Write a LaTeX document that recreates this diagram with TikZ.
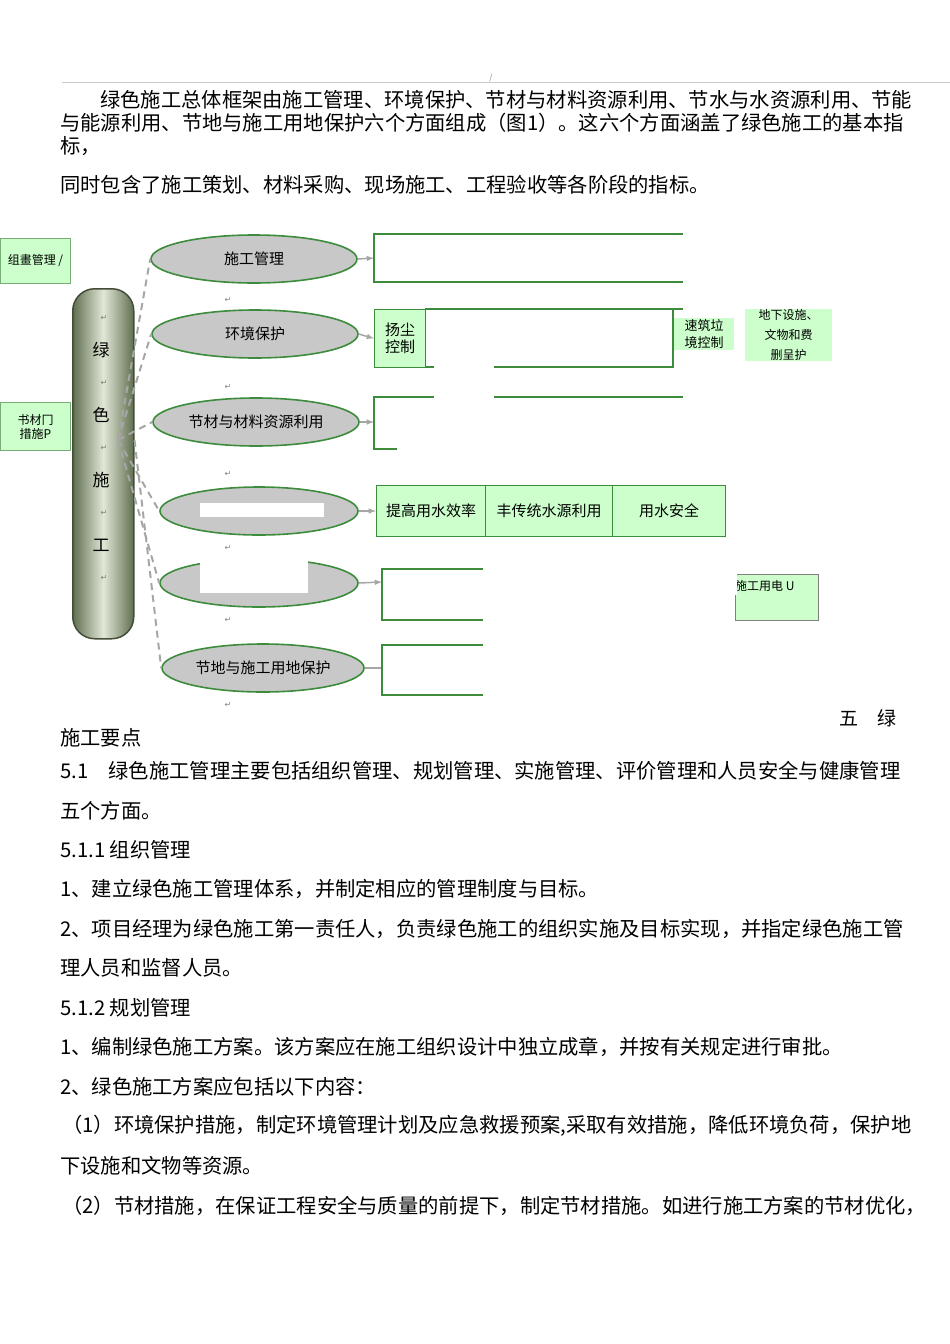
\documentclass[tikz,border=0pt]{standalone}
\usepackage{fontspec}
\setmainfont{Noto Sans CJK SC}
\newfontfamily\symf{DejaVu Sans}
\usetikzlibrary{shapes.geometric}
\definecolor{lg}{RGB}{204,255,204}
\definecolor{dg}{RGB}{60,140,60}
\definecolor{eg}{RGB}{200,200,200}
\definecolor{pe}{RGB}{95,110,80}
\definecolor{pm}{RGB}{225,232,215}
\begin{document}
\begin{tikzpicture}[x=1pt,y=-1pt,
  body/.style={anchor=west,inner sep=0pt,font=\fontsize{20.3}{22}\selectfont},
  ell/.style={ellipse,draw=dg,line width=1.6pt,fill=eg,minimum width=206pt,minimum height=48pt,inner sep=0pt,font=\fontsize{15}{17}\selectfont},
  gbox/.style={draw=dg,line width=1pt,fill=lg,inner sep=0pt,font=\fontsize{15}{17}\selectfont},
  open/.style={draw=dg,line width=1.2pt},
  dsh/.style={draw=gray!70,line width=2pt,dash pattern=on 7pt off 5pt},
  arr/.style={draw=gray!70,line width=1.5pt,-latex},
  ret/.style={font=\symf\fontsize{8}{9}\selectfont,text=gray,inner sep=0pt}]
\useasboundingbox (0,0) rectangle (950,1344);
\draw[gray!40,line width=0.6pt] (62,82) -- (950,82);
\node[inner sep=0pt,font=\fontsize{8}{8}\selectfont,text=gray] (sl) at (491,78) {/};
\node[body] (t1) at (100,100) {绿色施工总体框架由施工管理、环境保护、节材与材料资源利用、节水与水资源利用、节能};
\node[body] (t2) at (60,123) {与能源利用、节地与施工用地保护六个方面组成（图1）。这六个方面涵盖了绿色施工的基本指};
\node[body] (t3) at (60,146) {标，};
\node[body] (t4) at (60,185) {同时包含了施工策划、材料采购、现场施工、工程验收等各阶段的指标。};
\node[gbox,draw=dg!70,minimum width=70pt,minimum height=45pt,anchor=north west,font=\fontsize{12}{14}\selectfont] (lb1) at (0,238) {组畫管理 /};
\node[gbox,draw=dg!70,minimum width=70pt,minimum height=48pt,anchor=north west,font=\fontsize{12}{14}\selectfont,align=center] (lb2) at (0,402) {书材冂\\措施P};
\node[draw=pe!70!black,line width=1.5pt,rounded corners=22pt,minimum width=61pt,minimum height=350pt,anchor=north west,
  left color=pe,right color=pe,middle color=pm] (pill) at (72,288) {};
\foreach \c/\y in {绿/350,色/415,施/480,工/545}{\node[font=\fontsize{17}{18}\selectfont,inner sep=0pt] at (101,\y) {\c};}
\foreach \y in {318,383,448,513,578}{\node[ret] at (104,\y) {↵};}
\node[ell] (e1) at (254,259) {施工管理};
\node[ell] (e2) at (255,334) {环境保护};
\node[ell] (e3) at (256,422) {节材与材料资源利用};
\node[ell,minimum width=198pt] (e4) at (259,511) {};
\node[ell,minimum width=198pt] (e5) at (259,583) {};
\node[ell,minimum width=202pt] (e6) at (263,668) {节地与施工用地保护};
\fill[white] (200,503) rectangle (324,517);
\fill[white] (200,558) rectangle (308,593);
\foreach \y in {300,387,474,548,620,705}{\node[ret] at (228,\y) {↵};}
\coordinate (hub) at (118,440);
\draw[dsh] (hub) -- (e1.west);
\draw[dsh] (hub) -- (e2.west);
\draw[dsh] (hub) -- (e3.west);
\draw[dsh] (hub) -- (e4.west);
\draw[dsh] (hub) -- (e5.west);
\draw[dsh] (pill.east |- hub) -- (e6.west);
\coordinate (b1) at (374,258);
\draw[arr] (e1.east) -- (b1);
\draw[open] (683,234) -- (374,234) -- (374,282) -- (683,282);
\node[gbox,minimum width=51pt,minimum height=58pt,anchor=north west,align=center] (yc) at (374,309) {扬尘\\控制};
\draw[arr] (e2.east) -- (yc.west);
\draw[open] (425,309) -- (683,309);
\draw[open] (425,367) -- (434,367) (494,367) -- (683,367);
\draw[open] (673,309) -- (673,367);
\node[fill=lg,minimum width=60pt,minimum height=32pt,anchor=north west,inner sep=0pt,font=\fontsize{13}{17}\selectfont,align=left] (jz) at (674,318) {速筑垃\\境控制};
\fill[white] (674,350) rectangle (740,372);
\node[fill=lg,minimum width=87pt,minimum height=52pt,anchor=north west,inner sep=0pt,font=\fontsize{12}{20}\selectfont,align=center] (dx) at (745,309) {地下设施、\\文物和费\\删呈护};
\fill[white] (745,361) rectangle (835,372);
\coordinate (b3) at (374,422);
\draw[arr] (e3.east) -- (b3);
\draw[open] (434,397) -- (374,397) -- (374,449) -- (397,449);
\draw[open] (494,397) -- (683,397);
\node[gbox,minimum width=109pt,minimum height=51pt,anchor=north west] (w1) at (376,485) {提高用水效率};
\node[gbox,minimum width=127pt,minimum height=51pt,anchor=north west] (w2) at (485,485) {丰传统水源利用};
\node[gbox,minimum width=113pt,minimum height=51pt,anchor=north west] (w3) at (612,485) {用水安全};
\draw[arr] (e4.east) -- (w1.west);
\coordinate (b5) at (382,582);
\draw[arr] (e5.east) -- (b5);
\draw[open] (483,569) -- (382,569) -- (382,620) -- (483,620);
\node[gbox,draw=gray,minimum width=83pt,minimum height=46pt,anchor=north west] (yd) at (735,574) {};
\node[anchor=north west,inner sep=0pt,font=\fontsize{12}{14}\selectfont] (ydt) at (735,580) {施工用电 U};
\fill[white] (730,574) rectangle (737,595);
\coordinate (b6) at (382,668);
\draw[gray!70,line width=2pt] (e6.east) -- (b6);
\draw[open] (483,645) -- (382,645) -- (382,695) -- (483,695);
\node[inner sep=0pt,font=\fontsize{19}{20}\selectfont] (wl) at (868,718) {五\quad 绿};
\node[body] (s1) at (60,738) {施工要点};
\node[body] (s2) at (60,771) {5.1\quad 绿色施工管理主要包括组织管理、规划管理、实施管理、评价管理和人员安全与健康管理};
\node[body] (s3) at (60,811) {五个方面。};
\node[body] (s4) at (60,850) {5.1.1 组织管理};
\node[body] (s5) at (60,889) {1、建立绿色施工管理体系，并制定相应的管理制度与目标。};
\node[body] (s6) at (60,929) {2、项目经理为绿色施工第一责任人，负责绿色施工的组织实施及目标实现，并指定绿色施工管};
\node[body] (s7) at (60,968) {理人员和监督人员。};
\node[body] (s8) at (60,1008) {5.1.2 规划管理};
\node[body] (s9) at (60,1047) {1、编制绿色施工方案。该方案应在施工组织设计中独立成章，并按有关规定进行审批。};
\node[body] (s10) at (60,1087) {2、绿色施工方案应包括以下内容：};
\node[body] (s11) at (62,1126) {（1）环境保护措施，制定环境管理计划及应急救援预案,采取有效措施，降低环境负荷，保护地};
\node[body] (s12) at (60,1166) {下设施和文物等资源。};
\node[body] (s13) at (62,1206) {（2）节材措施，在保证工程安全与质量的前提下，制定节材措施。如进行施工方案的节材优化，};
\end{tikzpicture}
\end{document}
